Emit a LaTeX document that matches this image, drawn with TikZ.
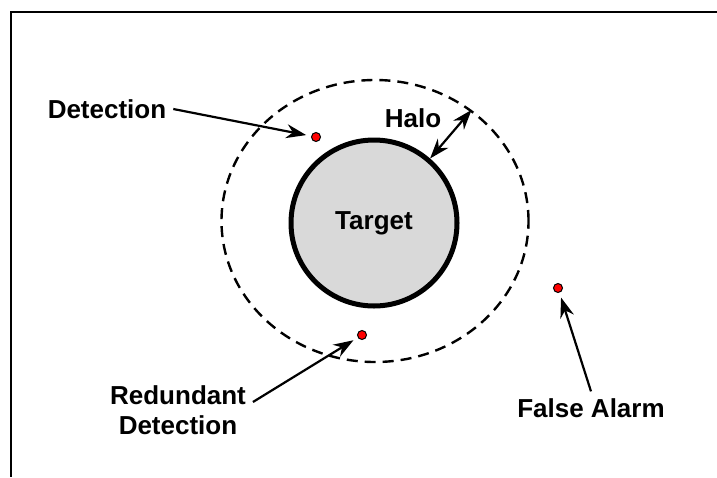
\documentclass[tikz,border=0pt]{standalone}
\usepackage{fontspec}
\setmainfont{Liberation Sans}
\usetikzlibrary{arrows.meta, shapes.geometric}

\begin{document}
\begin{tikzpicture}[x=0.5pt, y=-0.5pt,
            > = {Stealth[length=10pt, width=7pt]},
     txt/.style = {font=\bfseries\fontsize{13}{15}\selectfont},
  target/.style = {circle, draw, line width=2.5pt, fill=black!15,
                   minimum size=83pt, inner sep=0pt},
    halo/.style = {ellipse, draw, line width=1.2pt, dash pattern=on 5.5pt off 3.5pt,
                   minimum width=153.5pt, minimum height=141pt, inner sep=0pt},
     hit/.style = {circle, draw, line width=0.5pt, fill=red,
                   minimum size=4.5pt, inner sep=0pt},
 pointer/.style = {line width=1.1pt, ->, shorten >=2.5pt}
                        ]
\useasboundingbox (0,0) rectangle (717,477);
% frame
    \draw[line width=1.2pt] (717,12) -- (11,12) -- (11,477);
% target and halo
    \node[target, txt] (tgt) at (374,223) {Target};
    \node[halo] (hal) at (375,221) {};
% detections
    \node[hit] (det) at (316,137) {};
    \node[hit] (red) at (362,335) {};
    \node[hit] (fa)  at (558,288) {};
% labels
    \node[txt] (ldet) at (107,109) {Detection};
    \node[txt, align=center] (lred) at (178,410) {Redundant\\Detection};
    \node[txt] (lfa) at (591,408) {False Alarm};
    \node[txt] (lhal) at (413,118) {Halo};
% arrows
    \draw[pointer] (ldet.east) -- (det);
    \draw[pointer] ([yshift=4pt]lred.east) -- (red);
    \draw[pointer] (lfa.north) -- (fa);
    \draw[line width=1.1pt, <->] (tgt.49) -- (hal.49);
\end{tikzpicture}
\end{document}
